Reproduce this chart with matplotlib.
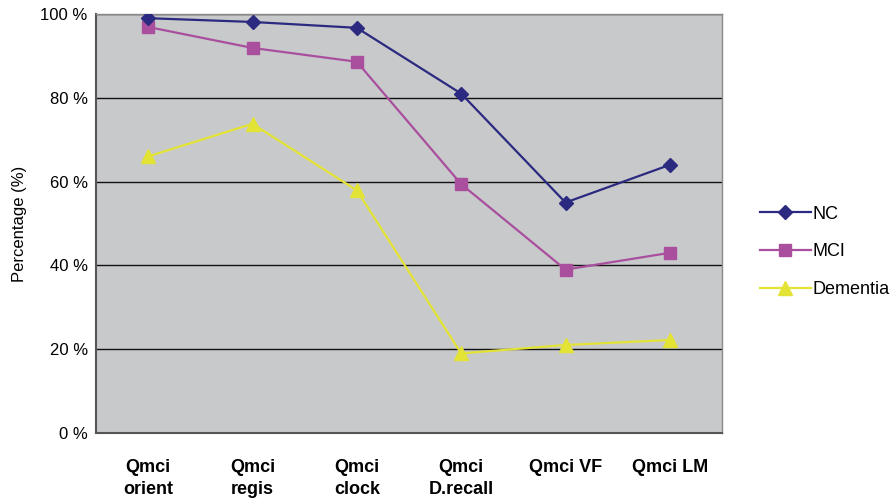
import matplotlib
matplotlib.use("Agg")
import matplotlib.pyplot as plt
from matplotlib.ticker import FixedLocator

plt.rcParams['font.family'] = ['Liberation Sans', 'DejaVu Sans']

categories = ["Qmci\norient", "Qmci\nregis", "Qmci\nclock", "Qmci\nD.recall", "Qmci VF", "Qmci LM"]
nc = [99.0, 98.1, 96.7, 81.0, 55.0, 64.0]
mci = [96.9, 91.9, 88.6, 59.4, 39.0, 43.0]
dementia = [66.0, 73.8, 57.9, 19.0, 21.0, 22.2]
yticks = [0, 20, 40, 60, 80, 100]

fig = plt.figure(figsize=(8.94, 4.98), dpi=100)
ax = fig.add_axes([96 / 894, 1 - 433 / 498, 626 / 894, 419 / 498])
ax.set_facecolor("#c8c9cb")

x = list(range(len(categories)))
ax.plot(x, nc, color="#2b2a80", marker="D", markersize=7, linewidth=1.6, label="NC", zorder=4)
ax.plot(x, mci, color="#a94f9e", marker="s", markersize=9, linewidth=1.6, label="MCI", zorder=3)
ax.plot(x, dementia, color="#e3e336", marker="^", markersize=10, linewidth=1.6, label="Dementia", zorder=2)

ax.set_xlim(-0.5, len(categories) - 0.5)
ax.set_ylim(0, 100)
ax.yaxis.set_major_locator(FixedLocator(yticks))
ax.set_yticklabels([f"{v} %" for v in yticks], fontsize=12)
ax.grid(axis="y", color="#111111", linewidth=1.0, zorder=1)
ax.set_axisbelow(True)

ax.set_xticks(x)
ax.set_xticklabels(categories, fontsize=13, fontweight="bold", linespacing=1.35)
ax.tick_params(axis="x", length=0, pad=19)
ax.tick_params(axis="y", length=0, pad=6)

for side in ("top", "right"):
    ax.spines[side].set_color("#8a8a8a")
    ax.spines[side].set_linewidth(1.0)
for side in ("left", "bottom"):
    ax.spines[side].set_color("#555555")
    ax.spines[side].set_linewidth(1.5)

ax.set_ylabel("Percentage (%)", fontsize=12, labelpad=10)

leg = ax.legend(loc="center left", bbox_to_anchor=(1.035, 0.432), frameon=False,
                fontsize=13, handlelength=2.8, labelspacing=1.15, handletextpad=0.1)

fig.savefig("out.png", dpi=100)
